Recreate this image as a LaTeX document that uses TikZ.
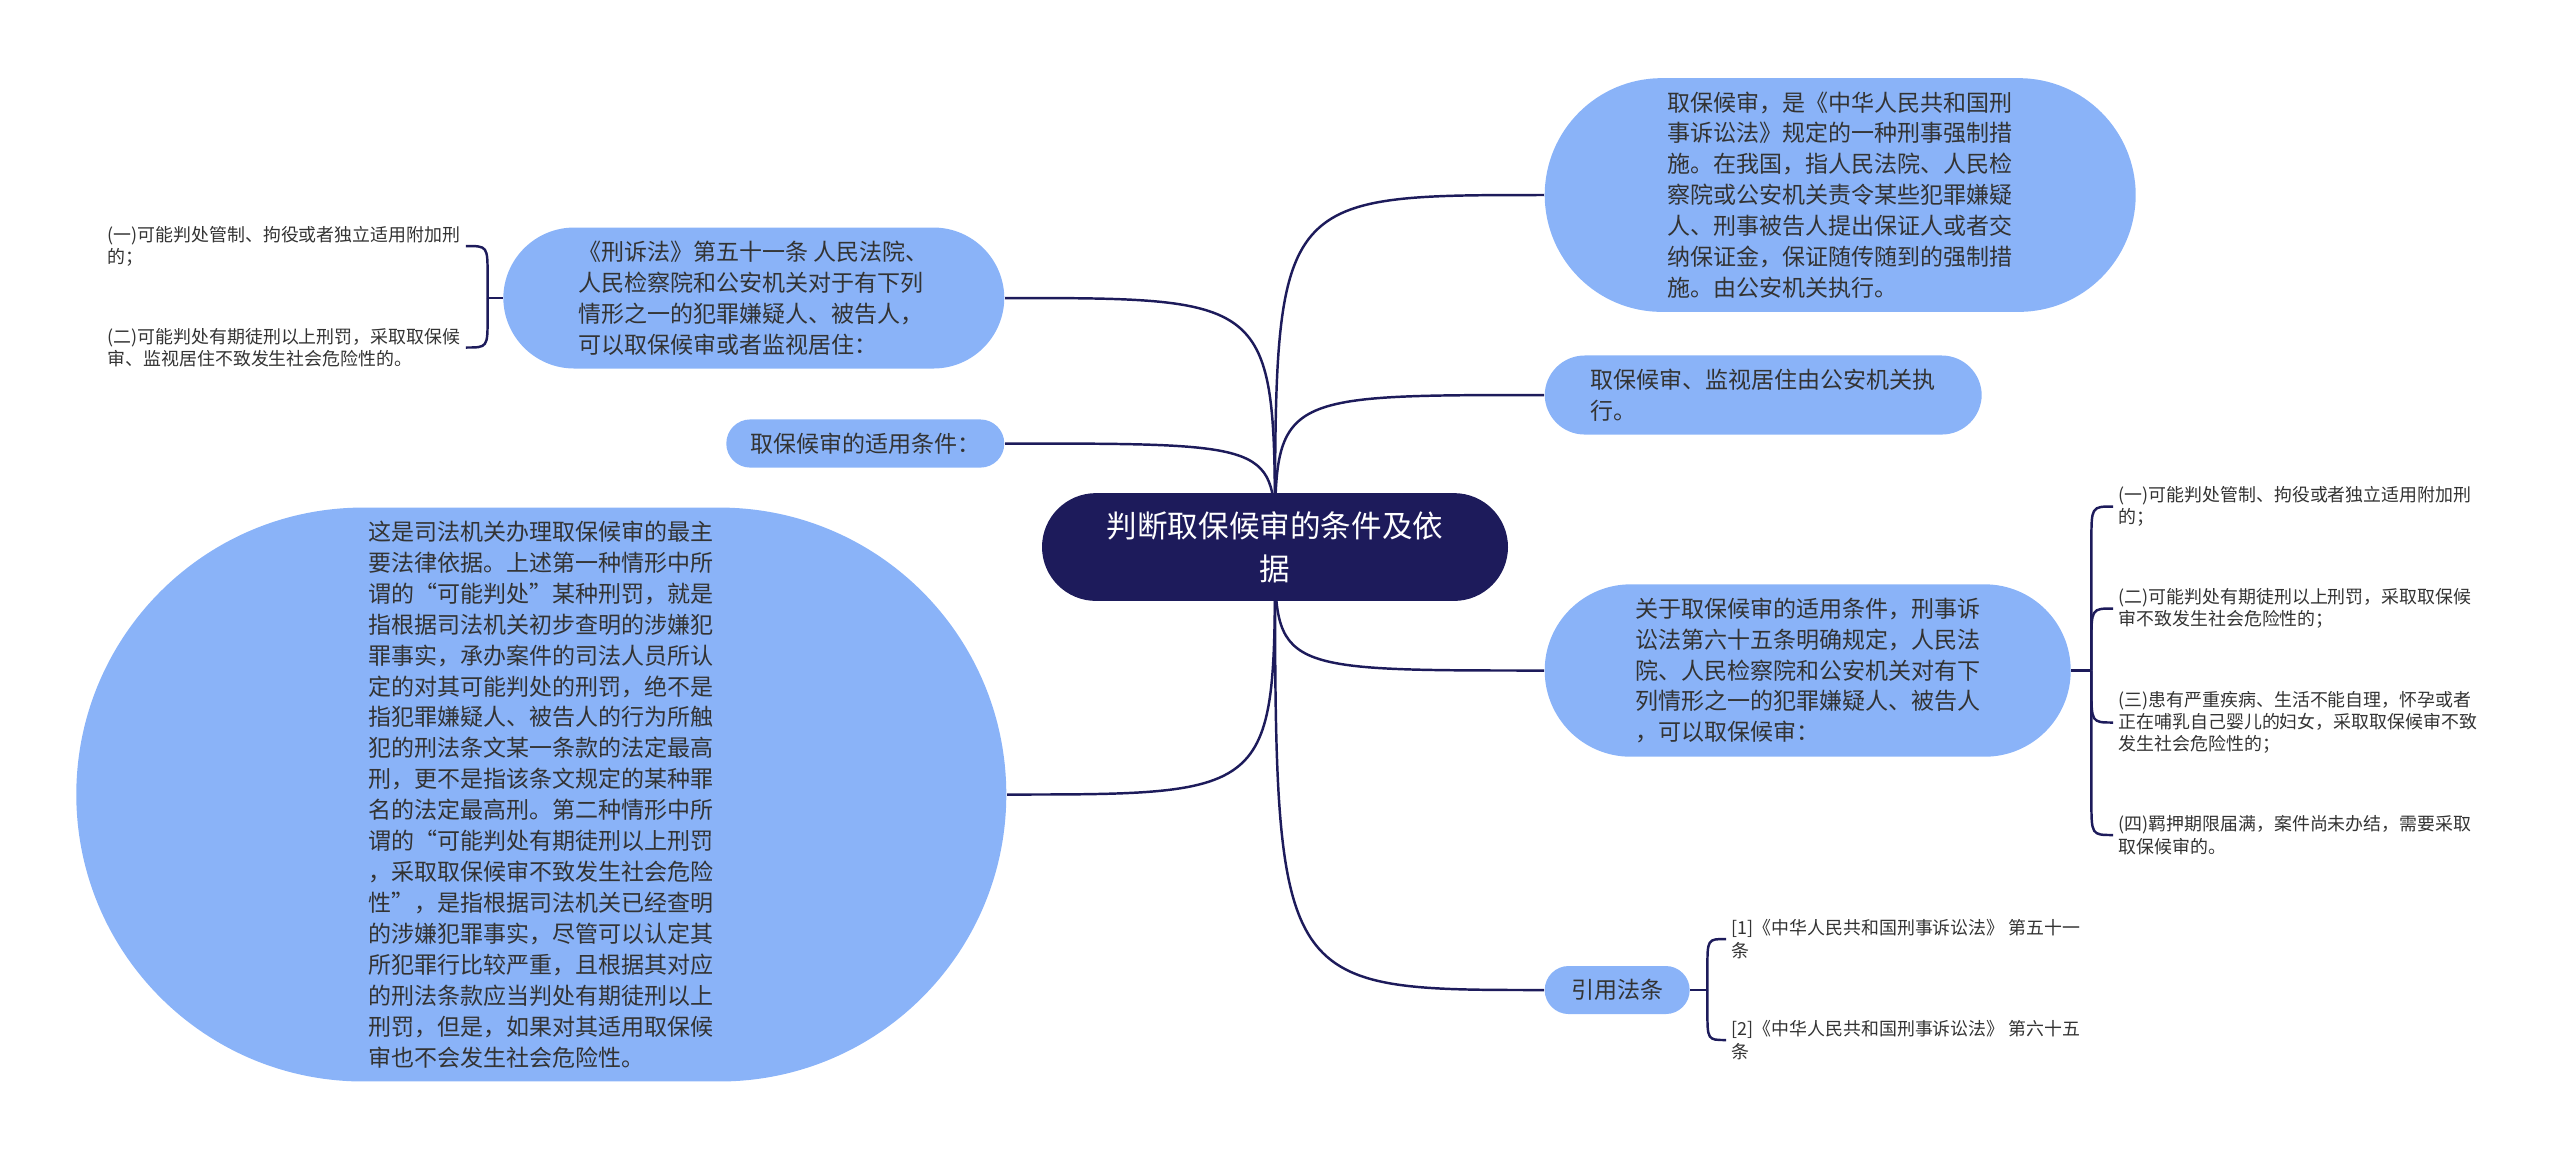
\documentclass[tikz,border=0pt]{standalone}
\usepackage{fontspec}
\setmainfont{Noto Sans CJK SC}
\usetikzlibrary{backgrounds}
\definecolor{rootnavy}{HTML}{1D1B5B}
\definecolor{nodeblue}{HTML}{8AB3F8}
\definecolor{inkgray}{HTML}{333333}

\begin{document}
\begin{tikzpicture}[
    link/.style={draw=rootnavy, line width=0.7pt},
    rootbox/.style={rectangle, rounded corners=0.54cm, minimum width=4.66cm, fill=rootnavy,
      text=white, align=center, inner ysep=5.2pt, font=\fontsize{8.7pt}{12.2pt}\selectfont},
    topic/.style={rectangle, rounded corners=#1, fill=nodeblue, text=inkgray, align=left,
      inner xsep=1.5pt, inner ysep=3.8pt, font=\fontsize{6.55pt}{8.8pt}\selectfont},
    leaf/.style={text=inkgray, align=left, inner sep=1.4pt,
      font=\fontsize{5.1pt}{6.35pt}\selectfont}]
  \useasboundingbox (0,0) rectangle (25.6,-11.59);

  \node[rootbox] (root) at (12.75,-5.47) {判断取保候审的条件及依\\据};

  \node[topic=1.17cm, minimum width=5.91cm, anchor=west] (r1) at (15.44,-1.95) {取保候审，是《中华人民共和国刑\\事诉讼法》规定的一种刑事强制措\\施。在我国，指人民法院、人民检\\察院或公安机关责令某些犯罪嫌疑\\人、刑事被告人提出保证人或者交\\纳保证金，保证随传随到的强制措\\施。由公安机关执行。};
  \node[topic=0.4cm, minimum width=4.37cm, anchor=west] (r2) at (15.44,-3.95) {取保候审、监视居住由公安机关执\\行。};
  \node[topic=0.86cm, minimum width=5.26cm, anchor=west] (r3) at (15.44,-6.705) {关于取保候审的适用条件，刑事诉\\讼法第六十五条明确规定，人民法\\院、人民检察院和公安机关对有下\\列情形之一的犯罪嫌疑人、被告人\\，可以取保候审：};
  \node[topic=0.24cm, minimum width=1.45cm, anchor=west] (r4) at (15.44,-9.90) {引用法条};

  \node[topic=0.71cm, minimum width=5.01cm, anchor=east] (l1) at (10.05,-2.98) {《刑诉法》第五十一条 人民法院、\\人民检察院和公安机关对于有下列\\情形之一的犯罪嫌疑人、被告人，\\可以取保候审或者监视居住：};
  \node[topic=0.24cm, minimum width=2.78cm, anchor=east] (l2) at (10.05,-4.435) {取保候审的适用条件：};
  \node[topic=2.87cm, minimum width=9.30cm, anchor=east] (l3) at (10.07,-7.945) {这是司法机关办理取保候审的最主\\要法律依据。上述第一种情形中所\\谓的“可能判处”某种刑罚，就是\\指根据司法机关初步查明的涉嫌犯\\罪事实，承办案件的司法人员所认\\定的对其可能判处的刑罚，绝不是\\指犯罪嫌疑人、被告人的行为所触\\犯的刑法条文某一条款的法定最高\\刑，更不是指该条文规定的某种罪\\名的法定最高刑。第二种情形中所\\谓的“可能判处有期徒刑以上刑罚\\，采取取保候审不致发生社会危险\\性”，是指根据司法机关已经查明\\的涉嫌犯罪事实，尽管可以认定其\\所犯罪行比较严重，且根据其对应\\的刑法条款应当判处有期徒刑以上\\刑罚，但是，如果对其适用取保候\\审也不会发生社会危险性。};

  \node[leaf, anchor=west] (lf1) at (1.02,-2.46) {(一)可能判处管制、拘役或者独立适用附加刑\\的；};
  \node[leaf, anchor=west] (lf2) at (1.02,-3.475) {(二)可能判处有期徒刑以上刑罚，采取取保候\\审、监视居住不致发生社会危险性的。};

  \node[leaf, anchor=west] (rf1) at (21.13,-5.065) {(一)可能判处管制、拘役或者独立适用附加刑\\的；};
  \node[leaf, anchor=west] (rf2) at (21.13,-6.085) {(二)可能判处有期徒刑以上刑罚，采取取保候\\审不致发生社会危险性的；};
  \node[leaf, anchor=west] (rf3) at (21.13,-7.225) {(三)患有严重疾病、生活不能自理，怀孕或者\\正在哺乳自己婴儿的妇女，采取取保候审不致\\发生社会危险性的；};
  \node[leaf, anchor=west] (rf4) at (21.13,-8.35) {(四)羁押期限届满，案件尚未办结，需要采取\\取保候审的。};

  \node[leaf, anchor=west] (cf1) at (17.26,-9.39) {[1]《中华人民共和国刑事诉讼法》 第五十一\\条};
  \node[leaf, anchor=west] (cf2) at (17.26,-10.40) {[2]《中华人民共和国刑事诉讼法》 第六十五\\条};

  \coordinate (lbr) at ([xshift=-0.15cm]l1.west);
  \coordinate (rbr) at ([xshift=0.2cm]r3.east);
  \coordinate (cbr) at ([xshift=0.17cm]r4.east);

  \begin{pgfonlayer}{background}
    \foreach \kid in {r1,r2,r3,r4}
      \draw[link] (root.center) .. controls (root.center |- \kid.west) .. (\kid.west);
    \foreach \kid in {l1,l2,l3}
      \draw[link] (root.center) .. controls (root.center |- \kid.east) .. (\kid.east);
  \end{pgfonlayer}

  \draw[link] (l1.west) -- (lbr);
  \foreach \kid/\s in {lf1/-1,lf2/1}
    \draw[link] (lbr) -- ([yshift=\s*0.3cm]lbr |- \kid.east) .. controls (lbr |- \kid.east) .. (\kid.east);
  \draw[link] (r3.east) -- (rbr);
  \foreach \kid/\s in {rf1/-1,rf2/-1,rf3/1,rf4/1}
    \draw[link] (rbr) -- ([yshift=\s*0.35cm]rbr |- \kid.west) .. controls (rbr |- \kid.west) .. (\kid.west);
  \draw[link] (r4.east) -- (cbr);
  \foreach \kid/\s in {cf1/-1,cf2/1}
    \draw[link] (cbr) -- ([yshift=\s*0.3cm]cbr |- \kid.west) .. controls (cbr |- \kid.west) .. (\kid.west);
\end{tikzpicture}
\end{document}
